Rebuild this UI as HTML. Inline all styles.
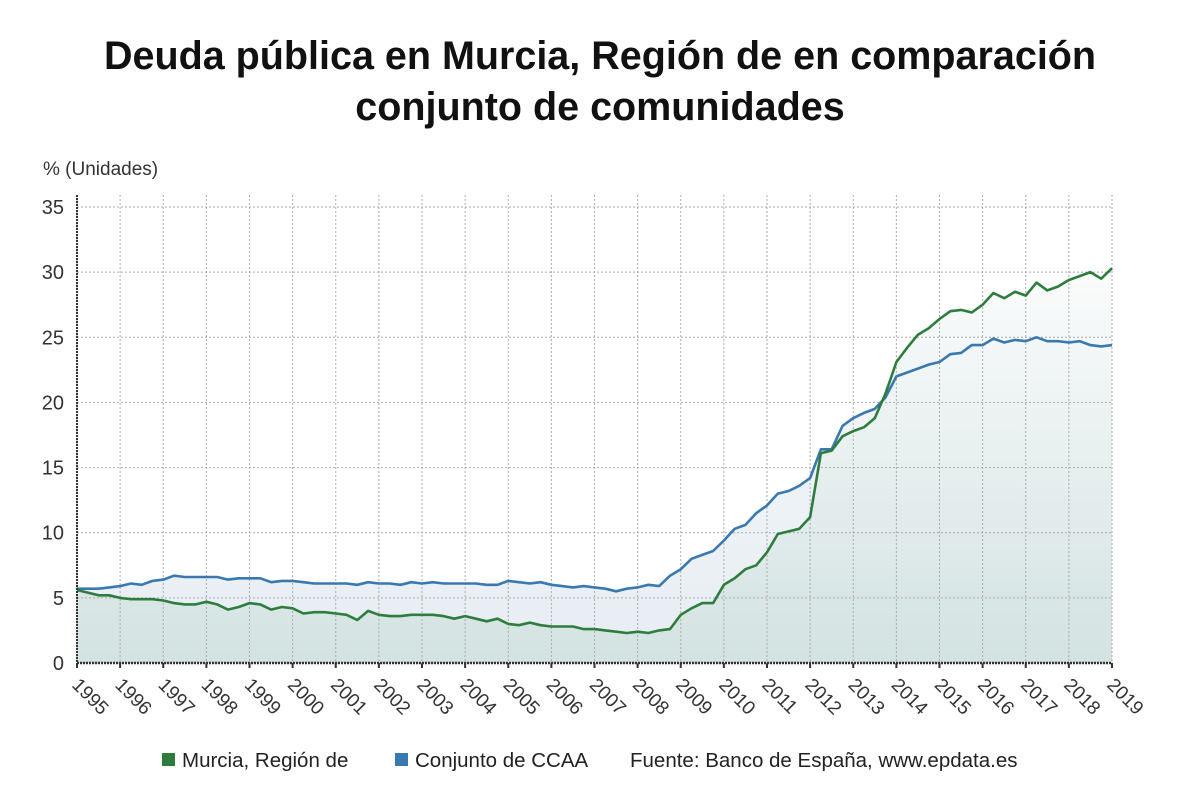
<!DOCTYPE html>
<html><head><meta charset="utf-8"><style>
body{margin:0;background:#fff;font-family:"Liberation Sans",sans-serif;}
#wrap{position:relative;width:1200px;height:808px;overflow:hidden;background:#fff}
h1{position:absolute;top:31px;left:0;width:1200px;margin:0;text-align:center;font-size:39.5px;line-height:51px;font-weight:bold;color:#111}
</style></head><body>
<div id="wrap">
<h1>Deuda pública en Murcia, Región de en comparación<br>conjunto de comunidades</h1>
<svg id="svg" width="1200" height="808" style="position:absolute;left:0;top:0">
<defs>
<linearGradient id="gG" x1="0" y1="0" x2="0" y2="1"><stop offset="0" stop-color="#fbfcfc"/><stop offset="1" stop-color="#d3e2e2"/></linearGradient>
<linearGradient id="gB" x1="0" y1="0" x2="0" y2="1"><stop offset="0" stop-color="#f4f7fa"/><stop offset="1" stop-color="#e6edf2"/></linearGradient>
</defs>
</svg>
</div>
<script>
const years=[1995,1996,1997,1998,1999,2000,2001,2002,2003,2004,2005,2006,2007,2008,2009,2010,2011,2012,2013,2014,2015,2016,2017,2018,2019];
const yTicks=[0,5,10,15,20,25,30,35];
const murcia=[5.6,5.4,5.2,5.2,5.0,4.9,4.9,4.9,4.8,4.6,4.5,4.5,4.7,4.5,4.1,4.3,4.6,4.5,4.1,4.3,4.2,3.8,3.9,3.9,3.8,3.7,3.3,4.0,3.7,3.6,3.6,3.7,3.7,3.7,3.6,3.4,3.6,3.4,3.2,3.4,3.0,2.9,3.1,2.9,2.8,2.8,2.8,2.6,2.6,2.5,2.4,2.3,2.4,2.3,2.5,2.6,3.7,4.2,4.6,4.6,6.0,6.5,7.2,7.5,8.5,9.9,10.1,10.3,11.2,16.1,16.3,17.4,17.8,18.1,18.8,20.7,23.1,24.2,25.2,25.7,26.4,27.0,27.1,26.9,27.5,28.4,28.0,28.5,28.2,29.2,28.6,28.9,29.4,29.7,30.0,29.5,30.3];
const ccaa=[5.7,5.7,5.7,5.8,5.9,6.1,6.0,6.3,6.4,6.7,6.6,6.6,6.6,6.6,6.4,6.5,6.5,6.5,6.2,6.3,6.3,6.2,6.1,6.1,6.1,6.1,6.0,6.2,6.1,6.1,6.0,6.2,6.1,6.2,6.1,6.1,6.1,6.1,6.0,6.0,6.3,6.2,6.1,6.2,6.0,5.9,5.8,5.9,5.8,5.7,5.5,5.7,5.8,6.0,5.9,6.7,7.2,8.0,8.3,8.6,9.4,10.3,10.6,11.5,12.1,13.0,13.2,13.6,14.2,16.4,16.4,18.2,18.8,19.2,19.5,20.4,22.0,22.3,22.6,22.9,23.1,23.7,23.8,24.4,24.4,24.9,24.6,24.8,24.7,25.0,24.7,24.7,24.6,24.7,24.4,24.3,24.4];
const X0=77,X1=1112,Y0=663,Y1=207;
const xq=i=>X0+(X1-X0)*i/(murcia.length-1);
const xy=k=>X0+(X1-X0)*k/(years.length-1);
const yv=v=>Y0-(Y0-Y1)*v/35;
const svg=document.getElementById('svg');const NS='http://www.w3.org/2000/svg';
function mk(t,a){const e=document.createElementNS(NS,t);for(const k in a)e.setAttribute(k,a[k]);svg.appendChild(e);return e;}
yTicks.forEach(v=>{const t=mk('text',{x:64,y:yv(v)+7,'text-anchor':'end','font-size':'20',fill:'#333'});t.textContent=v;

});
years.forEach((yr,k)=>{const x=xy(k);
const tk=mk('line',{x1:x,x2:x,y1:Y0,y2:Y0+5,stroke:'#333','stroke-width':2});


const t=mk('text',{x:x-6,y:Y0+23,'font-size':'19',fill:'#333',transform:`rotate(45 ${x-6} ${Y0+23})`});t.textContent=yr;

});
function pts(a){return a.map((v,i)=>xq(i).toFixed(1)+','+yv(v).toFixed(1)).join(' ');}
const aB=mk('polygon',{points:X0+','+Y0+' '+pts(ccaa)+' '+X1+','+Y0,fill:'url(#gB)'});


const aG=mk('polygon',{points:X0+','+Y0+' '+pts(murcia)+' '+X1+','+Y0,fill:'url(#gG)'});


yTicks.forEach(v=>{const l=mk('line',{x1:X0,x2:X1,y1:yv(v),y2:yv(v),stroke:'#aaa','stroke-dasharray':'2,2'});

});
years.forEach((yr,k)=>{const x=xy(k);const l=mk('line',{x1:x,x2:x,y1:Y1-12,y2:Y0,stroke:'#aaa','stroke-dasharray':'2,2'});

});
const lB=mk('polyline',{points:pts(ccaa),fill:'none',stroke:'#3a78b0','stroke-width':2.6,'stroke-linejoin':'round'});


const lG=mk('polyline',{points:pts(murcia),fill:'none',stroke:'#2e7d3e','stroke-width':2.6,'stroke-linejoin':'round'});


const ax=mk('line',{x1:X0,x2:X0,y1:Y1-12,y2:Y0,stroke:'#333','stroke-width':2,'stroke-dasharray':'2,1'});


const bx=mk('line',{x1:X0,x2:X1,y1:Y0,y2:Y0,stroke:'#333','stroke-width':2.5,'stroke-dasharray':'2,1'});


const yt=mk('text',{x:43,y:175,'font-size':'19',fill:'#333'});yt.textContent='% (Unidades)';


const r1=mk('rect',{x:162,y:753,width:13,height:13,fill:'#2e7d3e'});


const t1=mk('text',{x:182,y:767,'font-size':'20.5',fill:'#222'});t1.textContent='Murcia, Región de';


const r2=mk('rect',{x:395,y:753,width:13,height:13,fill:'#3a78b0'});


const t2=mk('text',{x:415,y:767,'font-size':'20.5',fill:'#222'});t2.textContent='Conjunto de CCAA';


const t3=mk('text',{x:630,y:767,'font-size':'20.5',fill:'#222'});t3.textContent='Fuente: Banco de España, www.epdata.es';


</script>
</body></html>
